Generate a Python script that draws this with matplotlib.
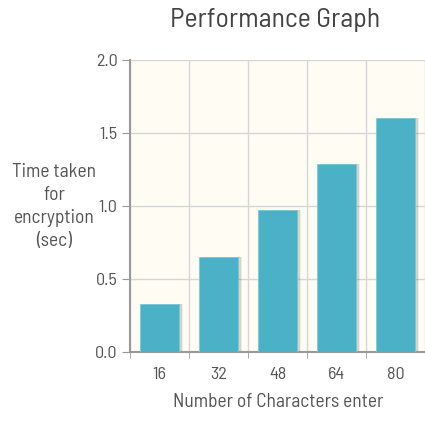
import matplotlib.pyplot as plt
import numpy as np

plt.rcParams['font.family'] = ['Barlow Semi Condensed', 'DejaVu Sans']

chars = ['16', '32', '48', '64', '80']
time_sec = [0.33, 0.65, 0.97, 1.29, 1.60]

fig = plt.figure(figsize=(4.25, 4.23), dpi=100)
ax = fig.add_axes([0.306, 0.168, 0.694, 0.690])
ax.set_facecolor('#fffcf4')

x = np.arange(len(chars))
# soft shadow to the right of each bar
for k, a in enumerate([0.25, 0.15, 0.08]):
    ax.bar(x + 0.025 + k * 0.025, time_sec, width=0.65, color='#444444', alpha=a, zorder=2)
ax.bar(x, time_sec, width=0.65, color='#4bb1c6', edgecolor='#7fcad8', linewidth=0.6, zorder=3)

ax.set_xlim(-0.5, 4.42)
ax.set_ylim(0, 2.0)
ax.set_yticks([0.0, 0.5, 1.0, 1.5, 2.0])
ax.set_yticklabels(['0.0', '0.5', '1.0', '1.5', '2.0'])
ax.set_xticks(x)
ax.set_xticklabels(chars)
ax.set_xticks(np.arange(-0.5, 5, 1), minor=True)
ax.grid(True, axis='y', color='#d6d6d6', linewidth=1, zorder=1)
ax.grid(True, axis='x', which='minor', color='#d6d6d6', linewidth=1, zorder=1)
ax.set_axisbelow(True)

ax.tick_params(axis='x', which='major', length=0, pad=11, labelsize=13, labelcolor='#555555')
ax.tick_params(axis='x', which='minor', length=4, color='#999999', direction='out')
ax.tick_params(axis='y', length=6, color='#999999', labelsize=13, labelcolor='#555555', pad=3)
for side in ['top', 'right']:
    ax.spines[side].set_visible(False)
for side in ['left', 'bottom']:
    ax.spines[side].set_color('#999999')
    ax.spines[side].set_linewidth(1.5)

fig.text(0.647, 0.953, 'Performance Graph', ha='center', va='center', fontsize=20, color='#444444')
fig.text(0.127, 0.511, 'Time taken\nfor\nencryption\n(sec)', ha='center', va='center',
         fontsize=14, color='#555555', linespacing=1.35)
fig.text(0.654, 0.05, 'Number of Characters enter', ha='center', va='center', fontsize=14, color='#555555')

plt.savefig('out.png', dpi=100)
